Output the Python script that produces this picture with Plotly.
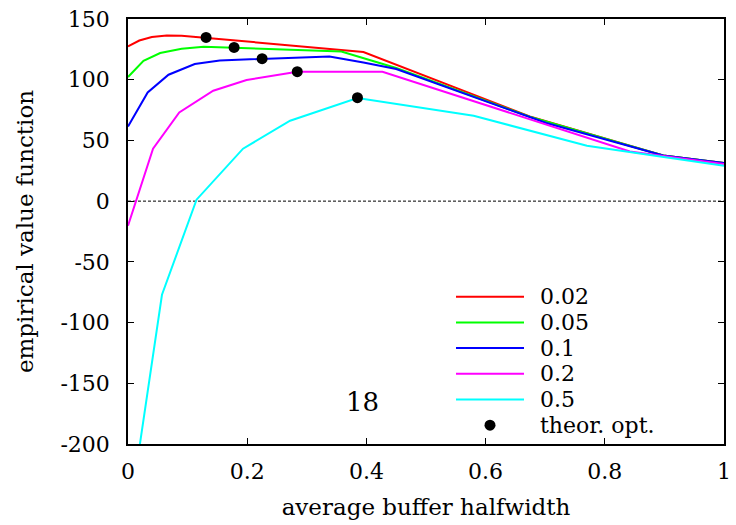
import plotly.graph_objects as go

# Data
red_x = [0.0, 0.019, 0.040, 0.065, 0.090, 0.395, 0.674, 0.898, 1.0]
red_y = [127.4, 132.3, 135.1, 136.5, 136.3, 122.8, 69.8, 37.6, 31.5]

green_x = [0.0, 0.026, 0.054, 0.090, 0.127, 0.358, 0.450, 0.674, 0.898, 1.0]
green_y = [102.2, 115.6, 122.0, 125.5, 127.1, 123.3, 109.6, 69.5, 37.6, 31.5]

blue_x = [0.0, 0.033, 0.068, 0.112, 0.154, 0.224, 0.338, 0.395, 0.450, 0.702, 0.898, 1.0]
blue_y = [61.5, 89.5, 104.1, 112.9, 115.9, 117.3, 119.2, 114.2, 108.8, 64.3, 37.6, 31.5]

magenta_x = [0.0, 0.042, 0.086, 0.143, 0.199, 0.284, 0.427, 0.842, 0.898, 1.0]
magenta_y = [-20.3, 43.2, 73.0, 90.9, 99.7, 106.6, 106.6, 40.9, 37.2, 30.5]

cyan_x = [0.017, 0.057, 0.115, 0.193, 0.272, 0.385, 0.580, 0.770, 0.893, 1.0]
cyan_y = [-210.0, -77.1, 1.2, 43.2, 66.2, 84.9, 70.3, 45.6, 36.8, 29.2]

opt_x = [0.131, 0.178, 0.225, 0.284, 0.385]
opt_y = [134.8, 126.6, 117.3, 106.6, 85.2]

x_ticks = [0, 0.2, 0.4, 0.6, 0.8, 1]
x_tick_labels = ["0", "0.2", "0.4", "0.6", "0.8", "1"]
y_ticks = [-200, -150, -100, -50, 0, 50, 100, 150]
y_tick_labels = ["-200", "-150", "-100", "-50", "0", "50", "100", "150"]

series_names = ["0.02", "0.05", "0.1", "0.2", "0.5"]
series_x = [red_x, green_x, blue_x, magenta_x, cyan_x]
series_y = [red_y, green_y, blue_y, magenta_y, cyan_y]
series_colors = ["#ff0000", "#00ff00", "#0000ff", "#ff00ff", "#00ffff"]
opt_name = "theor. opt."

FONT = "DejaVu Serif"
TICK_SIZE = 22
TITLE_SIZE = 23
KEY_SIZE = 22

# plot-area geometry (pixels)
W, H = 736, 525
L, R, T, B = 128, 12, 19, 81
PW, PH = W - L - R, H - T - B


def px_to_paper(px, py):
    return (px - L) / PW, (H - B - py) / PH


fig = go.Figure()
for name, xs, ys, col in zip(series_names, series_x, series_y, series_colors):
    fig.add_trace(go.Scatter(x=xs, y=ys, mode="lines", name=name, showlegend=False,
                             line=dict(color=col, width=2)))
fig.add_trace(go.Scatter(x=opt_x, y=opt_y, mode="markers", name=opt_name,
                         showlegend=False, marker=dict(color="black", size=11)))

# dashed zero axis
fig.add_shape(type="line", xref="x", yref="y", x0=0, x1=1, y0=0, y1=0,
              line=dict(color="black", width=1, dash="3px,2px"), layer="below")

# key (legend) drawn in the lower right
row_gap = 25.7
row0 = 296.7
for i, (name, col) in enumerate(zip(series_names, series_colors)):
    py = row0 + i * row_gap
    x0, y0 = px_to_paper(456, py)
    x1, _ = px_to_paper(524, py)
    fig.add_shape(type="line", xref="paper", yref="paper", x0=x0, x1=x1, y0=y0, y1=y0,
                  line=dict(color=col, width=2))
    tx, ty = px_to_paper(538, py)
    fig.add_annotation(x=tx, y=ty, xref="paper", yref="paper", text=name,
                       showarrow=False, xanchor="left", yanchor="middle",
                       font=dict(family=FONT, size=KEY_SIZE, color="black"))
py = row0 + 5 * row_gap
mx, my = px_to_paper(490, py)
fig.add_shape(type="circle", xref="paper", yref="paper", xsizemode="pixel",
              ysizemode="pixel", xanchor=mx, yanchor=my, x0=-5.5, x1=5.5, y0=-5.5, y1=5.5,
              fillcolor="black", line=dict(color="black", width=0))
tx, ty = px_to_paper(538, py)
fig.add_annotation(x=tx, y=ty, xref="paper", yref="paper", text=opt_name,
                   showarrow=False, xanchor="left", yanchor="middle",
                   font=dict(family=FONT, size=KEY_SIZE, color="black"))

fig.add_annotation(x=0.394, y=-165, xref="x", yref="y", text="18",
                   showarrow=False, font=dict(family=FONT, size=26, color="black"))

axis_common = dict(showline=True, linecolor="black", linewidth=1.5, mirror="ticks",
                   ticks="inside", ticklen=6, tickcolor="black", tickwidth=1,
                   showgrid=False, zeroline=False, automargin=False,
                   tickfont=dict(family=FONT, size=TICK_SIZE, color="black"))

fig.update_xaxes(range=[0, 1], tickvals=x_ticks, ticktext=x_tick_labels,
                 ticklabelstandoff=7,
                 title=dict(text="average buffer halfwidth", standoff=16,
                            font=dict(family=FONT, size=TITLE_SIZE, color="black")),
                 **axis_common)
fig.update_yaxes(range=[-200, 150], tickvals=y_ticks, ticktext=y_tick_labels,
                 ticklabelstandoff=12,
                 title=dict(text="empirical value function", standoff=20,
                            font=dict(family=FONT, size=TITLE_SIZE, color="black")),
                 **axis_common)

fig.update_layout(
    width=W, height=H,
    margin=dict(l=L, r=R, t=T, b=B),
    paper_bgcolor="white", plot_bgcolor="white",
    font=dict(family=FONT, size=TICK_SIZE, color="black"),
    showlegend=False,
)

fig.write_html("out.html", config={"displayModeBar": False},
               post_script="document.body.style.margin='0px';document.body.style.overflow='hidden';")
